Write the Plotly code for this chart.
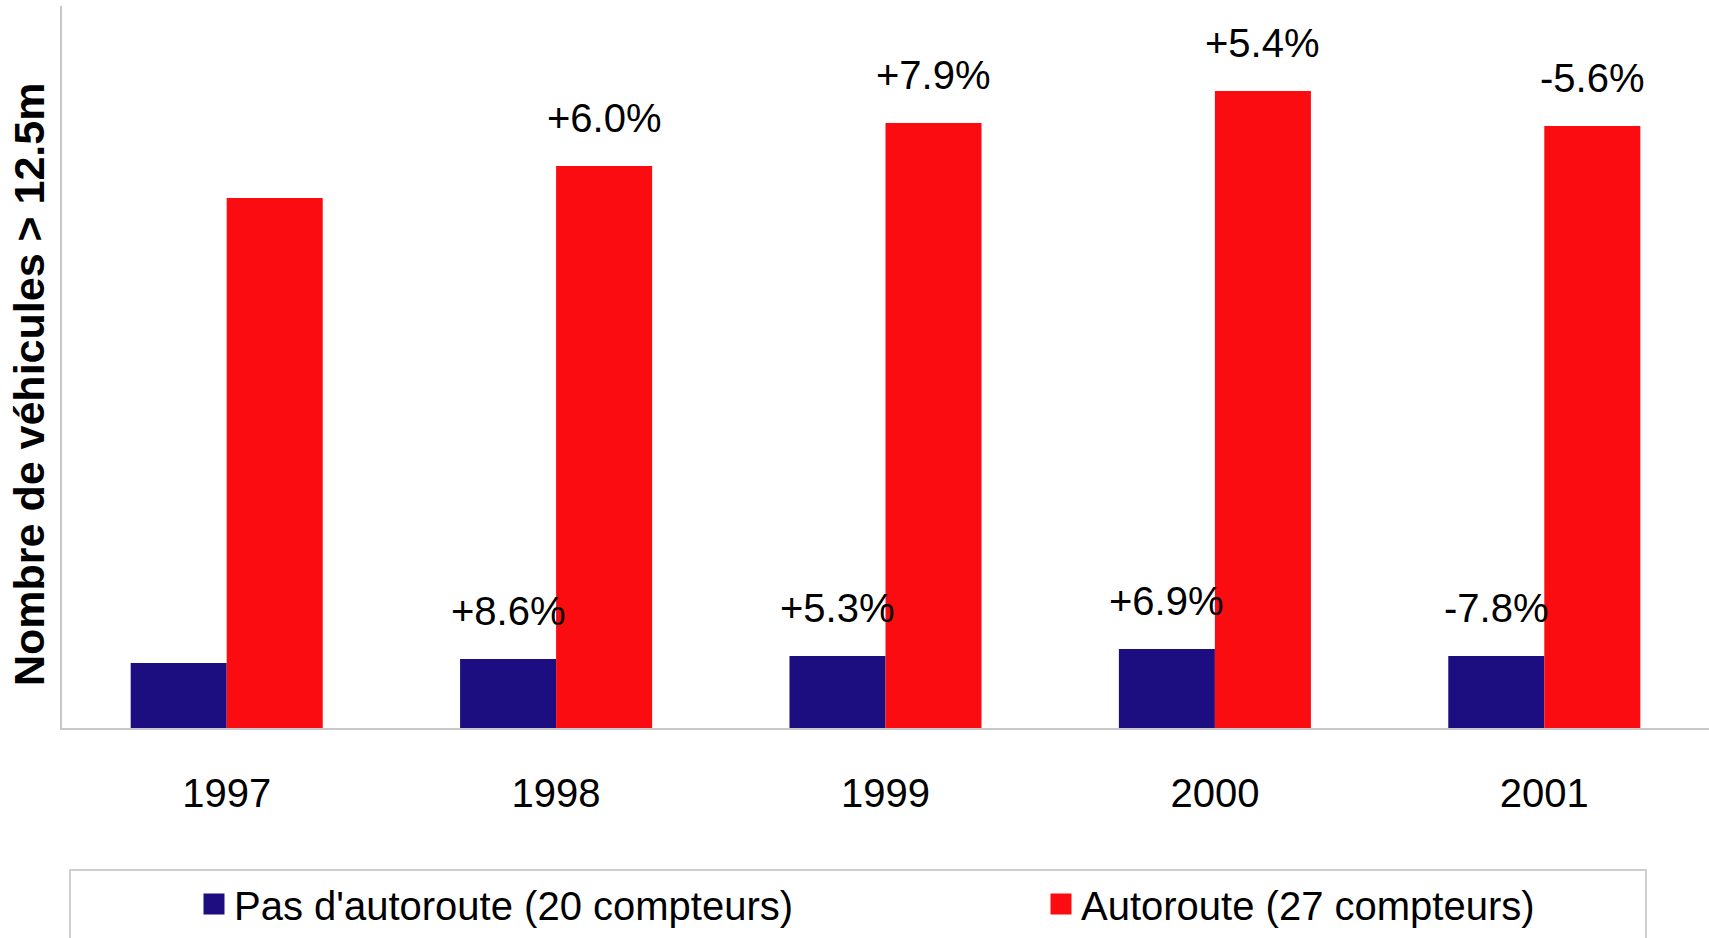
import plotly.graph_objects as go

years = ["1997", "1998", "1999", "2000", "2001"]
pas_autoroute = [65, 69, 72, 79, 72]
autoroute = [530, 562, 605, 637, 602]
pas_labels = ["", "+8.6%", "+5.3%", "+6.9%", "-7.8%"]
auto_labels = ["", "+6.0%", "+7.9%", "+5.4%", "-5.6%"]
series_names = ["Pas d'autoroute (20 compteurs)", "Autoroute (27 compteurs)"]

BLUE = "#1C0D80"
RED = "#FA0C10"
FONT = "Liberation Sans, Arial, sans-serif"

W, H = 1709, 938
ML, MR, MT, MB = 62, 0, 6, 210
PW, PH = W - ML - MR, H - MT - MB

bargap = 0.417
barw = (1 - bargap) / 2

fig = go.Figure()
fig.add_trace(go.Bar(x=years, y=pas_autoroute, name=series_names[0], showlegend=False,
                     marker=dict(color=BLUE, line=dict(width=0))))
fig.add_trace(go.Bar(x=years, y=autoroute, name=series_names[1], showlegend=False,
                     marker=dict(color=RED, line=dict(width=0))))
# legend entries with larger square keys
for name, col, leg in [(series_names[0], BLUE, "legend"), (series_names[1], RED, "legend2")]:
    fig.add_trace(go.Scatter(x=[None], y=[None], mode="markers", name=name, legend=leg,
                             marker=dict(symbol="square", size=16, color=col,
                                         line=dict(color=col, width=5)),
                             hoverinfo="skip"))

annotations = []
for i, (lbl, v) in enumerate(zip(pas_labels, pas_autoroute)):
    if lbl:
        annotations.append(dict(x=i - barw / 2, y=v, xref="x", yref="y", text=lbl,
                                showarrow=False, yanchor="middle", yshift=48,
                                font=dict(family=FONT, size=40, color="black")))
for i, (lbl, v) in enumerate(zip(auto_labels, autoroute)):
    if lbl:
        annotations.append(dict(x=i + barw / 2, y=v, xref="x", yref="y", text=lbl,
                                showarrow=False, yanchor="middle", yshift=48,
                                font=dict(family=FONT, size=40, color="black")))
annotations.append(dict(x=(29 - ML) / PW, y=(H - MB - 385) / PH, xref="paper", yref="paper",
                        text="<b>Nombre de véhicules > 12.5m</b>", textangle=-90,
                        showarrow=False, xanchor="center", yanchor="middle",
                        font=dict(family=FONT, size=43, color="black")))

leg_y = (H - MB - 904) / PH
legend_common = dict(orientation="h", y=leg_y, xanchor="left", yanchor="middle",
                     font=dict(family=FONT, size=40, color="black"),
                     bgcolor="rgba(0,0,0,0)", borderwidth=0, itemsizing="trace")

fig.update_layout(
    width=W, height=H,
    margin=dict(l=ML, r=MR, t=MT, b=MB, autoexpand=False),
    paper_bgcolor="white", plot_bgcolor="white",
    barmode="group", bargap=bargap, bargroupgap=0,
    showlegend=True,
    legend=dict(x=(194 - ML) / PW, **legend_common),
    legend2=dict(x=(1041 - ML) / PW, **legend_common),
    annotations=annotations,
    shapes=[dict(type="rect", xref="paper", yref="paper",
                 x0=(70 - ML) / PW, x1=(1646 - ML) / PW,
                 y0=-(MB + 20) / PH, y1=-(870 - (H - MB)) / PH,
                 line=dict(color="#CFCFCF", width=2), fillcolor="rgba(0,0,0,0)")],
    xaxis=dict(type="category", showgrid=False, zeroline=False,
               showline=True, linecolor="#C8C8C8", linewidth=2,
               ticks="", ticklabelstandoff=29,
               tickfont=dict(family=FONT, size=40, color="black")),
    yaxis=dict(range=[0, PH], showgrid=False, zeroline=False,
               showline=True, linecolor="#C8C8C8", linewidth=2,
               showticklabels=False, ticks=""),
)

fig.write_html("out.html", config={"displayModeBar": False},
               post_script="document.body.style.margin='0';document.body.style.overflow='hidden';")
